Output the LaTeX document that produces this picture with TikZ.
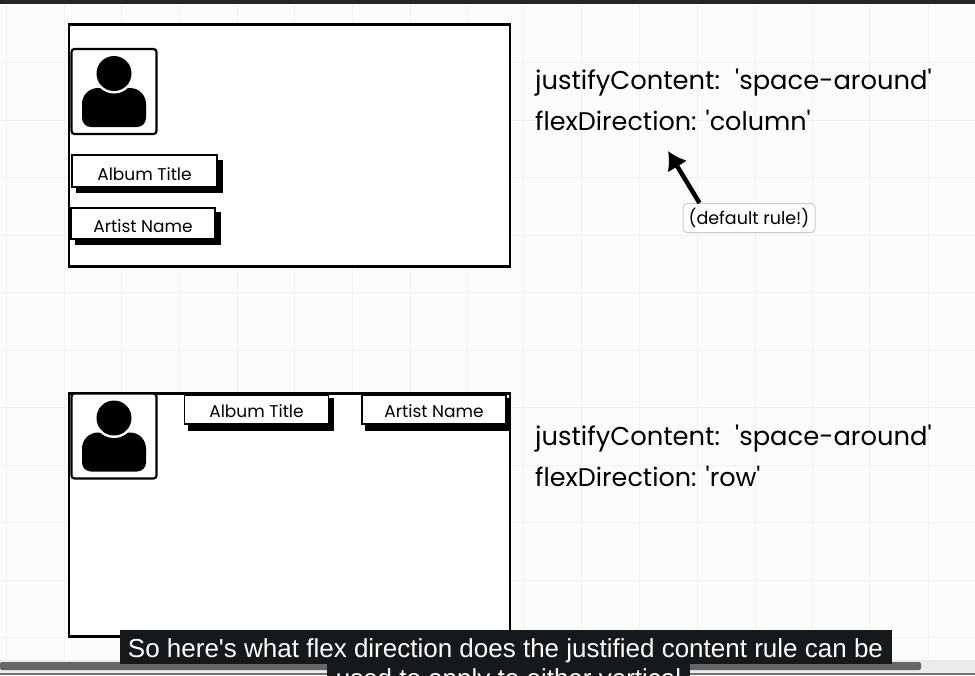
\documentclass[tikz,border=0pt]{standalone}
\usepackage{fontspec}
\usetikzlibrary{arrows.meta}
\setmainfont{Poppins}
\newfontfamily\subfont{Liberation Sans}
\definecolor{gridline}{HTML}{F1F3F1}
\definecolor{pagebg}{HTML}{FBFCFB}
\definecolor{subbg}{HTML}{16191B}
\newcommand{\sq}{\textquotesingle}
\tikzset{
  frame/.style={draw=black, line width=2.2pt, fill=white},
  ruletext/.style={anchor=base west, font=\fontsize{25.5}{28}\selectfont, inner sep=0pt},
  justifytext/.style={ruletext, font=\fontsize{25.8}{28}\selectfont},
  tag/.style={rectangle, draw=black, line width=1.6pt, fill=white, font=\fontsize{17}{18}\selectfont,
    inner sep=0pt, text depth=7pt, text height=#1},
  subline/.style={fill=subbg, text=white, inner sep=0pt, text height=27pt, text depth=7pt,
    font=\subfont\fontsize{26}{30}\selectfont}
}
% one person icon, box first and then head and shoulders
\newcommand{\personbox}[3]{
  \node[rectangle, rounded corners=3pt, draw=black, line width=2.2pt, fill=white,
    minimum width=85pt, minimum height=85pt] (#3) at (#1,#2) {};
  \fill (#1-32,#2+26) [rounded corners=16pt] -- (#1-32,#2-3.5) -- (#1+32,#2-3.5)
    [rounded corners=0pt] -- (#1+32,#2+26) [rounded corners=9pt] -- (#1+32,#2+35.5)
    -- (#1-32,#2+35.5) [rounded corners=0pt] -- cycle;
  \fill[white] (#1,#2-18) circle (20pt);
  \fill (#1,#2-18) circle (17.5pt);
}
\begin{document}
\begin{tikzpicture}[x=1pt, y=-1pt]
\useasboundingbox (0,0) rectangle (975,675);
\begin{scope}
\clip (0,0) rectangle (975,675);
\fill[pagebg] (0,0) rectangle (975,675);
% faint grid
\foreach \gx in {6,64,121,179,237,294,352,410,467,523,581,639,697,755,812,869,928}
  \draw[gridline, line width=1pt] (\gx,0) -- (\gx,675);
\foreach \gy in {62,120,177,235,292,350,407,465,522,580,637}
  \draw[gridline, line width=1pt] (0,\gy) -- (975,\gy);
\fill[black!85] (0,0) rectangle (975,4);

% upper layout
\node[frame, rectangle, minimum width=441pt, minimum height=242pt] (topframe) at (289.5,145.5) {};
\personbox{114}{91.5}{topperson}
\fill (76,160) rectangle (222.5,192.5);
\node[tag=25pt, minimum width=145pt] (topalbum) at (144.5,171) {Album Title};
\fill (75,212) rectangle (221,245);
\node[tag=24pt, minimum width=144pt] (topartist) at (143,223.5) {Artist Name};
\node[justifytext] (topjustify) at (535,89) {justifyContent: \hspace{6pt}\sq space-around\sq};
\node[ruletext] (topflex) at (535,130) {flexDirection: \sq column\sq};
\node[rectangle, rounded corners=4pt, draw=black!20, line width=1pt, fill=white, inner sep=0pt,
  minimum width=132pt, minimum height=29pt, font=\fontsize{17.5}{18}\selectfont] (defaultnote) at (749,218) {(default rule!)};
\coordinate (arrowtip) at (668,151);
\draw[line width=4.5pt, -{Latex[length=18pt,width=23pt]}] ([xshift=17pt]defaultnote.north west) -- (arrowtip);

% lower layout
\node[frame, rectangle, minimum width=441pt, minimum height=243pt] (botframe) at (289.5,515) {};
\fill (188,398) rectangle (334,431);
\node[tag=22pt, minimum width=144pt] (botalbum) at (256.5,409.5) {Album Title};
\fill (365,398) rectangle (510.5,431);
\node[tag=22pt, minimum width=144pt] (botartist) at (434,409.5) {Artist Name};
\personbox{114}{436}{botperson}
\node[justifytext] (botjustify) at (535,445) {justifyContent: \hspace{6pt}\sq space-around\sq};
\node[ruletext] (botflex) at (535,486) {flexDirection: \sq row\sq};

% player bar and captions
\fill[black!8] (0,660) rectangle (975,675);
\fill[black!60, rounded corners=2pt] (0,662) rectangle (921,670);
\fill[black!55] (0,673) rectangle (975,675);
\node[subline, text height=23pt, text depth=11pt, minimum width=363pt] (captiontwo) at (508.5,681) {used to apply to either vertical};
\node[subline, minimum width=772pt] (captionone) at (505.5,647) {So here's what flex direction does the justified content rule can be};
\end{scope}
\end{tikzpicture}
\end{document}
